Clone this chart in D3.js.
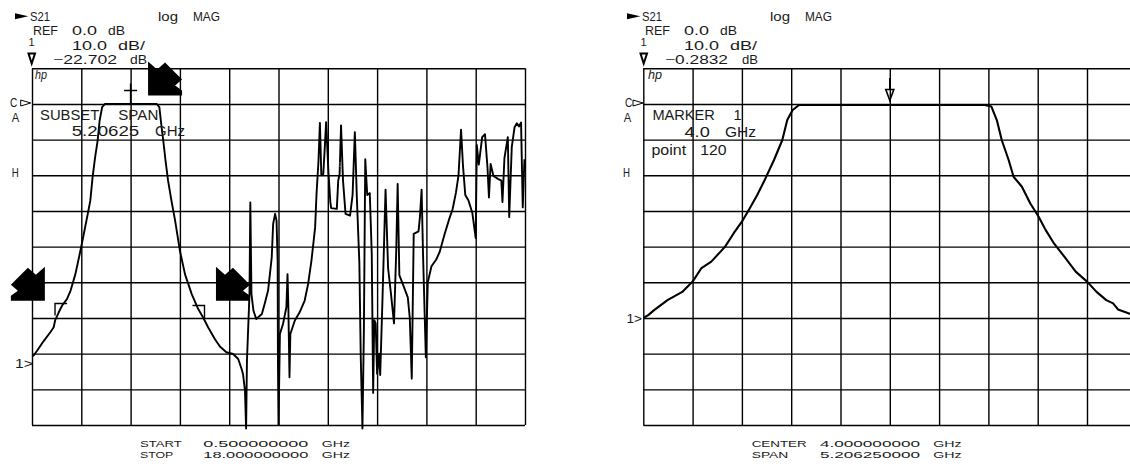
<!DOCTYPE html>
<html><head><meta charset="utf-8">
<script src="https://cdn.jsdelivr.net/npm/d3@7"></script>
<style>
html,body{margin:0;padding:0;background:#fff;}
svg text{font-family:"Liberation Sans",Arial,sans-serif;fill:#1a1a1a;}
.grid .tick line{stroke:#000;stroke-width:1.4;}
.grid .domain{display:none;}
</style></head><body>
<svg id="c" width="1130" height="469"></svg>
<script>
// ---------- data ----------
// Left: START 0.5 GHz, STOP 18 GHz, 10 dB/div, REF 0 dB
const leftFreq = [0.50,0.55,0.68,0.92,1.15,1.27,1.32,1.45,1.57,1.74,
 1.87,2.04,2.22,2.34,2.48,2.57,2.65,2.74,2.83,2.90,
 2.99,3.09,4.93,5.02,5.10,5.16,5.24,5.33,5.45,5.58,
 5.75,5.93,6.17,6.40,6.57,6.75,6.99,7.17,7.40,7.64,
 7.82,7.94,7.99,8.06,8.10,8.13,8.22,8.25,8.29,8.36,
 8.46,8.66,8.76,8.88,9.01,9.06,9.13,9.18,9.22,9.23,
 9.25,9.30,9.41,9.53,9.57,9.60,9.64,9.67,9.83,10.00,
 10.18,10.30,10.42,10.55,10.60,10.67,10.72,10.77,10.84,10.90,
 10.94,11.02,11.09,11.12,11.32,11.37,11.42,11.47,11.54,11.63,
 11.79,11.88,11.96,12.03,12.12,12.17,12.23,12.28,12.33,12.40,
 12.49,12.56,12.61,12.65,12.70,12.75,12.82,12.86,12.94,13.05,
 13.14,13.24,13.35,13.43,13.48,13.54,13.71,13.84,13.91,13.98,
 14.05,14.22,14.27,14.33,14.38,14.48,14.55,14.68,14.85,14.97,
 15.15,15.32,15.43,15.55,15.64,15.73,15.80,15.88,15.99,16.13,
 16.25,16.29,16.36,16.48,16.58,16.67,16.72,16.78,16.88,17.04,
 17.16,17.20,17.27,17.39,17.44,17.53,17.63,17.71,17.79,17.86,
 17.92,17.98];
const leftDb = [-70.5,-70.6,-69.2,-66.4,-64,-62.6,-60.7,-58.4,-56.5,-54.7,
 -52.3,-47.7,-41.1,-36.4,-30.8,-27.1,-20.6,-15,-10.3,-4.7,
 -0.9,0,0,-0.9,-6.5,-10.3,-15.9,-21.5,-27.1,-32.7,
 -41.1,-47.7,-53.3,-57.5,-59.8,-62.6,-65.9,-68,-69.6,-70.1,
 -71.5,-74.3,-75.7,-80.4,-91,-72,-53.3,-27.6,-53.3,-57.9,
 -60.3,-58.9,-56,-52.3,-43,-33.6,-30.8,-32.7,-44,-72,
 -90,-64.5,-61.7,-57,-47.7,-57,-76.6,-64.5,-60.7,-58.4,
 -55.1,-50.5,-43.9,-34.6,-25.2,-15.9,-5.3,-20,-19.6,-11.2,
 -5.1,-18.7,-27.5,-29.2,-29.4,-21.5,-19.6,-6,-21.5,-30.8,
 -31.3,-25.5,-7.9,-26,-44.5,-71,-91,-64,-15.5,-25.5,
 -25,-42,-81,-60.6,-61.5,-75.6,-70,-76,-55,-24,
 -46,-53,-61.5,-41,-22.4,-48,-51.5,-54.2,-60,-77,
 -36.4,-35.7,-31.7,-24,-42,-71,-50,-45.5,-43.6,-41.5,
 -36.4,-32,-29.5,-24.8,-20,-7.2,-17.5,-25.5,-27,-30.5,
 -37.6,-11.5,-17,-9.3,-8.5,-18,-26.2,-16.8,-20.2,-21,
 -21.5,-27.5,-15.2,-9.3,-31.7,-12.1,-6.5,-5.4,-6.3,-5.2,
 -29,-15.5];
// Right: CENTER 4 GHz, SPAN 5.20625 GHz
const rightFreq = [1.397,1.449,1.511,1.652,1.813,1.918,2.011,2.115,2.261,2.350,
 2.438,2.511,2.600,2.688,2.777,2.865,2.917,2.974,3.042,4.000,
 5.005,5.072,5.130,5.182,5.255,5.307,5.395,5.484,5.572,5.645,
 5.734,5.843,5.963,6.083,6.181,6.286,6.358,6.410,6.520,6.603];
const rightDb = [-60,-59.2,-57.8,-55,-52.6,-49.8,-46,-44.2,-40,-36.3,
 -33,-29.7,-25.5,-20.8,-15.7,-10.1,-4.5,-1.7,-0.3,-0.28,
 -0.3,-0.7,-4.5,-10.1,-15.7,-20.4,-23.2,-27.9,-31.6,-35.3,
 -39.1,-42.8,-47,-49.8,-52.6,-55,-55.9,-57.6,-58.7,-59.2];
// markers
const activeMarkerFreq = [4.0];
const activeMarkerDb = [0];
const subMarkerFreq = [1.53, 6.41];
const subMarkerDb = [-57.6, -58.2];
// annotation arrows (top-left corner, data units of left chart)
const arrowFreq = [4.62, -0.25, 7.03];
const arrowDb = [11.9, -45.6, -45.6];
const arrowMirror = [false, true, false];
// axis definitions
const dbTicks = d3.range(10, -91, -10);
const leftRange = [0.5, 18.0];
const rightCenter = 4.0, rightSpan = 5.20625;

// ---------- drawing ----------
const svg = d3.select("#c");
const y = d3.scaleLinear().domain([10, -90]).range([68.3, 425]);
const xL = d3.scaleLinear().domain(leftRange).range([32, 525]);
const xR = d3.scaleLinear().domain([rightCenter - rightSpan/2, rightCenter + rightSpan/2]).range([643.3, 1136.3]);

function grid(x) {
  const [d0, d1] = x.domain();
  const xt = d3.range(11).map(i => d0 + i*(d1-d0)/10);
  const g = svg.append("g").attr("class","grid");
  g.append("g").attr("transform",`translate(0,${y(-90)})`)
    .call(d3.axisBottom(x).tickValues(xt).tickSize(-(y(-90)-y(10))).tickFormat(""));
  g.append("g").attr("transform",`translate(${x(d0)},0)`)
    .call(d3.axisLeft(y).tickValues(dbTicks).tickSize(-(x(d1)-x(d0))).tickFormat(""));
}
grid(xL); grid(xR);

function trace(x, fs, ds, w) {
  const pts = fs.map((f,i)=>[f, ds[i]]);
  svg.append("path").datum(pts)
    .attr("d", d3.line().x(d=>x(d[0])).y(d=>y(d[1])))
    .attr("fill","none").attr("stroke","#000").attr("stroke-width",w)
    .attr("stroke-linejoin","round");
}
trace(xL, leftFreq, leftDb, 1.9);
trace(xR, rightFreq, rightDb, 2.1);

function T(str, x1, x2, base, size, opts={}) {
  const t = svg.append("text").attr("x", x1).attr("y", base).attr("font-size", size).text(str);
  if (x2 != null) t.attr("textLength", x2-x1).attr("lengthAdjust","spacingAndGlyphs");
  if (opts.italic) t.attr("font-style","italic");
  if (opts.fill) t.style("fill", opts.fill);
  return t;
}

// header blocks
const HS = 12.4;
function header(dx, val, valEnd, dbStart, dbEnd) {
  svg.append("path").attr("d",`M${15+dx},13.3 L${28.3+dx},16.3 L${15+dx},19.3 Z`).attr("fill","#000");
  T("S21", 30+dx, 50+dx, 21, HS);
  T("log", 158+dx, 178+dx, 20.5, HS);
  T("MAG", 193+dx, 220+dx, 20.5, HS);
  T("REF", 33+dx, 58+dx, 35, HS);
  T("0.0", 72+dx, 97+dx, 35, HS);
  T("dB", 108+dx, 125+dx, 35, HS);
  T("1", 28.5+dx, null, 45.5, 11);
  T("10.0", 72+dx, 107+dx, 49.5, HS);
  T("dB/", 118+dx, 145+dx, 49.5, HS);
  svg.append("path").attr("d",`M${28.5+dx},53.5 L${35+dx},53.5 L${31.7+dx},63.5 Z`)
    .attr("fill","none").attr("stroke","#000").attr("stroke-width",2);
  T(val, 53+dx, valEnd+dx, 63.5, HS);
  T("dB", dbStart+dx, dbEnd+dx, 63.5, HS);
}
header(0, "\u221222.702", 117, 130, 147);
header(612, "\u22120.2832", 116, 130, 146);

// side labels
function side(cx, triX, ax, hx, oneX1, oneX2, oneBase, hpX1, hpX2) {
  T("C", cx, cx+7.3, 106.7, 12);
  svg.append("path").attr("d",`M${triX},100 L${triX+10},103 L${triX},106 Z`)
    .attr("fill","none").attr("stroke","#000").attr("stroke-width",1);
  T("A", ax, ax+7.5, 122, 12);
  T("H", hx, hx+7, 177, 12);
  T("1>", oneX1, oneX2, oneBase, 12);
  T("hp", hpX1, hpX2, 79, 13, {italic:true});
}
side(10, 20.7, 11.7, 11.7, 15, 33, 368, 35, 47);
side(625, 633, 623.7, 623, 626.4, 642, 322.5, 648, 662);

// inner annotations
T("SUBSET", 40, 99.3, 119.5, 14.2);
T("SPAN", 118.3, 158.3, 119.5, 14.2);
T("5.20625", 71.7, 139.3, 135.5, 14.2);
T("GHz", 155, 185, 135.5, 14.2);
T("MARKER", 652.4, 714.9, 120, 14.6);
T("1", 733.4, null, 120, 14.6);
T("4.0", 684.5, 709.8, 136.5, 14.6);
T("GHz", 725, 756, 136.5, 14.6);
T("point", 651.4, 686.1, 155, 14);
T("120", 700.3, 726.6, 155, 14);
T("1", 338, null, 166.5, 7, {fill:"#777"});

// footers
const FS = 9.1;
T("START", 140, 181.7, 447.4, FS);
T("0.500000000", 203.3, 308.3, 447.4, FS);
T("GHz", 321.7, 350, 447.4, FS);
T("STOP", 140, 173.3, 457.6, FS);
T("18.000000000", 203.3, 308.3, 457.6, FS);
T("GHz", 321.7, 350, 457.6, FS);
T("CENTER", 751.7, 806.7, 447.4, FS);
T("4.000000000", 820, 920, 447.4, FS);
T("GHz", 933.3, 961.7, 447.4, FS);
T("SPAN", 751.7, 788.3, 457.6, FS);
T("5.206250000", 820, 920, 457.6, FS);
T("GHz", 933.3, 961.7, 457.6, FS);

// active marker on left (cross) and right (triangle)
activeMarkerFreq.forEach((f,i)=>{
  const px = xL(f), py = y(activeMarkerDb[i]);
  svg.append("path").attr("d",`M${px-6.5},${py-13.5} L${px+6.5},${py-13.5} M${px},${py-20.5} L${px},${py}`)
    .attr("stroke","#000").attr("stroke-width",1.5).attr("fill","none");
  const qx = xR(f), qy = y(activeMarkerDb[i]);
  svg.append("path").attr("d",`M${qx-4},${qy-14.5} L${qx+4},${qy-14.5} L${qx},${qy-3.5} Z M${qx},${qy-26} L${qx},${qy-14.5}`)
    .attr("stroke","#000").attr("stroke-width",1.6).attr("fill","none");
});
// sub markers (triangles)
subMarkerFreq.forEach((f,i)=>{
  const px = xL(f), py = y(subMarkerDb[i]);
  const d = i===0
    ? `M${px-6},${py+6} L${px-6},${py-6} L${px+6},${py-6}`
    : `M${px-6},${py-6} L${px+6},${py-6} L${px+6},${py+7}`;
  svg.append("path").attr("d", d).attr("stroke","#000").attr("stroke-width",1.4).attr("fill","none");
});
// big arrows
const arrowShape = [[0,0],[9,8],[17,1],[34,18],[27,24],[34,29],[34,34],[0,34]];
arrowFreq.forEach((f,i)=>{
  const ox = xL(f), oy = y(arrowDb[i]);
  const pts = arrowShape.map(([a,b]) => [ox + (arrowMirror[i] ? 34-a : a), oy + b]);
  svg.append("polygon").attr("points", pts.map(p=>p.join(",")).join(" ")).attr("fill","#000");
});
</script>
</body></html>
